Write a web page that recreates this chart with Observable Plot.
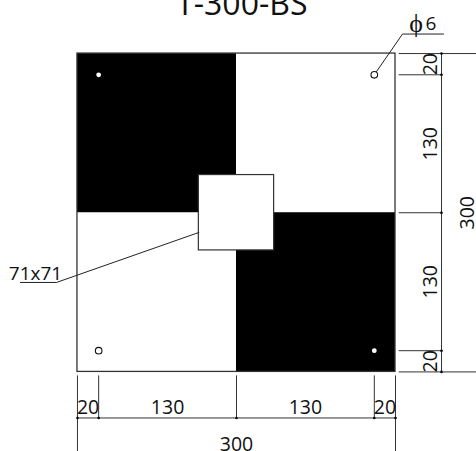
<!DOCTYPE html>
<html>
<head>
<meta charset="utf-8">
<script src="https://cdn.jsdelivr.net/npm/d3@7"></script>
<script src="https://cdn.jsdelivr.net/npm/@observablehq/plot@0.6"></script>
<style>
html,body{margin:0;padding:0;background:#fff}
svg{display:block;background:#fff}
</style>
</head>
<body>
<div id="chart"></div>
<script>
const title = "T-300-BS";
const plate = [{x1:0,x2:300,y1:0,y2:300}];
const blackQuadrants = [{x1:0,x2:150,y1:150,y2:300},{x1:150,x2:300,y1:0,y2:150}];
const centerSquare = [{x1:114.5,x2:185.5,y1:114.5,y2:185.5}];
const holesOnBlack = [{x:20,y:280},{x:280,y:20}];
const holesOnWhite = [{x:280,y:280},{x:20,y:20}];
const dimStops = [0,20,150,280,300];
const dimRightX = 343.4, dimBottomY = -43.4, extStart = 303, extStartB = -3.3, extEndX = 376.4, extEndY = -75;
const segments = [
  {label:"20",from:0,to:20},{label:"130",from:20,to:150},
  {label:"130",from:150,to:280},{label:"20",from:280,to:300}
];
const totalLabel = "300";
const leaders = [
  [{x:-53.8,y:84.3},{x:-19.8,y:84.3},{x:114.5,y:131.4}],
  [{x:280,y:280},{x:306.6,y:318.4},{x:345.3,y:318.4}]
];
const notes = [{text:"71x71",x:-39.6,y:92.5,size:19},{text:"6",x:333.5,y:328,size:19},{text:"ϕ",x:319.5,y:328,size:26}];

const font = "'Open Sans'";
const line = "#333";
const rightExt = dimStops.map(v => ({x1:extStart,x2:(v===0||v===300)?extEndX:dimRightX,y:v}));
const bottomExt = dimStops.map(v => ({x:v,y1:extStartB,y2:(v===0||v===300)?extEndY:dimBottomY}));

const chart = Plot.plot({
  width:476,height:451,
  marginTop:0,marginRight:0,marginBottom:0,marginLeft:0,
  x:{domain:[-72.6,376.4],axis:null},
  y:{domain:[-75,350],axis:null},
  style:{background:"#fff",fontFamily:font},
  marks:[
    Plot.rect(blackQuadrants,{x1:"x1",x2:"x2",y1:"y1",y2:"y2",fill:"#000"}),
    Plot.rect(plate,{x1:"x1",x2:"x2",y1:"y1",y2:"y2",fill:"none",stroke:line,strokeWidth:1.3}),
    Plot.rect(centerSquare,{x1:"x1",x2:"x2",y1:"y1",y2:"y2",fill:"#fff",stroke:line,strokeWidth:1.2}),
    Plot.link(rightExt,{x1:"x1",x2:"x2",y1:"y",y2:"y",stroke:line,strokeWidth:1}),
    Plot.link(bottomExt,{x1:"x",x2:"x",y1:"y1",y2:"y2",stroke:line,strokeWidth:1}),
    Plot.link([0],{x1:dimRightX,x2:dimRightX,y1:0,y2:300,stroke:line,strokeWidth:1}),
    Plot.link([0],{x1:0,x2:300,y1:dimBottomY,y2:dimBottomY,stroke:line,strokeWidth:1}),
    Plot.dot(dimStops,{x:dimRightX,y:d=>d,r:1.3,fill:"#000"}),
    Plot.dot(dimStops,{x:d=>d,y:dimBottomY,r:1.3,fill:"#000"}),
    ...leaders.map(l=>Plot.line(l,{x:"x",y:"y",stroke:"#222",strokeWidth:1})),
    Plot.dot(holesOnBlack,{x:"x",y:"y",r:2.4,fill:"#fff"}),
    Plot.dot(holesOnWhite,{x:"x",y:"y",r:3.3,fill:"#fff",stroke:"#111",strokeWidth:1.1}),
    Plot.text(segments,{x:d=>(d.from+d.to)/2,y:-33.5,text:"label",fontSize:19.5,fill:"#111",fontFamily:font}),
    Plot.text(segments,{x:333.5,y:d=>(d.from+d.to)/2,text:"label",rotate:-90,fontSize:19.5,fill:"#111",fontFamily:font}),
    Plot.text([totalLabel],{x:150,y:-68.5,text:d=>d,fontSize:19.5,fill:"#111",fontFamily:font}),
    Plot.text([totalLabel],{x:368,y:150,text:d=>d,rotate:-90,fontSize:19.5,fill:"#111",fontFamily:font}),
    Plot.text(notes,{x:"x",y:"y",text:"text",fontSize:"size",fill:"#111",fontFamily:font}),
    Plot.text([title],{x:155,y:346,text:d=>d,fontSize:32,fill:"#111",fontFamily:font})
  ]
});
document.getElementById("chart").append(chart);
</script>
</body>
</html>
